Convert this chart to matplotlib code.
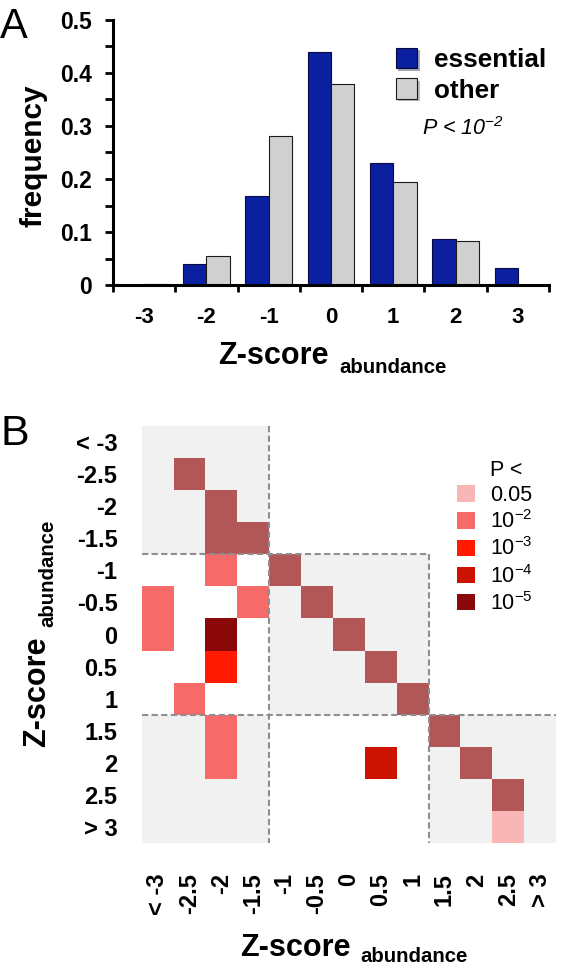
import numpy as np
import matplotlib
matplotlib.use('Agg')
import matplotlib.pyplot as plt
from matplotlib.colors import ListedColormap, BoundaryNorm
from matplotlib.patches import Patch, Rectangle
import matplotlib.patheffects as pe

plt.rcParams['font.family'] = ['Liberation Sans', 'DejaVu Sans']
plt.rcParams['mathtext.default'] = 'regular'

#----panel A: frequency of abundance z-scores
z_bins = [-3, -2, -1, 0, 1, 2, 3]
z_bin_labels = ['-3', '-2', '-1', '0', '1', '2', '3']
freq_essential = [0.0, 0.039, 0.167, 0.44, 0.231, 0.087, 0.032]
freq_other = [0.002, 0.055, 0.282, 0.38, 0.194, 0.083, 0.0]
freq_ticks = [0, 0.1, 0.2, 0.3, 0.4, 0.5]
freq_tick_labels = ['0', '0.1', '0.2', '0.3', '0.4', '0.5']

#----panel B: significance of z-score pairs
z_labels = ['< -3', '-2.5', '-2', '-1.5', '-1', '-0.5', '0',
            '0.5', '1', '1.5', '2', '2.5', '> 3']
# 0 = not significant, 1..5 = P < 0.05 .. 1e-5, 6 = diagonal
sig = [
    [0, 0, 0, 0, 0, 0, 0, 0, 0, 0, 0, 0, 0],
    [0, 6, 0, 0, 0, 0, 0, 0, 0, 0, 0, 0, 0],
    [0, 0, 6, 0, 0, 0, 0, 0, 0, 0, 0, 0, 0],
    [0, 0, 6, 6, 0, 0, 0, 0, 0, 0, 0, 0, 0],
    [0, 0, 2, 0, 6, 0, 0, 0, 0, 0, 0, 0, 0],
    [2, 0, 0, 2, 0, 6, 0, 0, 0, 0, 0, 0, 0],
    [2, 0, 5, 0, 0, 0, 6, 0, 0, 0, 0, 0, 0],
    [0, 0, 3, 0, 0, 0, 0, 6, 0, 0, 0, 0, 0],
    [0, 2, 0, 0, 0, 0, 0, 0, 6, 0, 0, 0, 0],
    [0, 0, 2, 0, 0, 0, 0, 0, 0, 6, 0, 0, 0],
    [0, 0, 2, 0, 0, 0, 0, 4, 0, 0, 6, 0, 0],
    [0, 0, 0, 0, 0, 0, 0, 0, 0, 0, 0, 6, 0],
    [0, 0, 0, 0, 0, 0, 0, 0, 0, 0, 0, 1, 0],
]
p_labels = ['0.05', '$10^{-2}$', '$10^{-3}$', '$10^{-4}$', '$10^{-5}$']
p_colors = ['#f8b6b6', '#f66a6a', '#ff1a00', '#cc1200', '#8a0808']
diag_color = '#b25757'
group_edges = [0, 4, 9, 13]
shaded = [(0, 0), (1, 1), (2, 2), (2, 0)]   # (row group, col group)

W, H = 566, 967
fig = plt.figure(figsize=(W / 100, H / 100), dpi=100)

#----panel A
axA = fig.add_axes([113 / W, 1 - 285 / H, 436 / W, 265 / H])
x = np.array(z_bins)
w = 0.375
axA.bar(x - w / 2, freq_essential, w, color='#0b20a0', edgecolor='#0a0a40',
        lw=0.8, label='essential')
axA.bar(x + w / 2, freq_other, w, color='#d0d0d0', edgecolor='#1a1a1a',
        lw=0.8, label='other')
axA.set_xlim(-3.5, 3.5)
axA.set_ylim(0, 0.5)
axA.set_xticks(z_bins)
axA.set_xticklabels(z_bin_labels, fontsize=16, fontweight='bold')
axA.set_xticks(np.arange(-3.5, 3.6, 1), minor=True)
axA.set_yticks(freq_ticks)
axA.set_yticklabels(freq_tick_labels, fontsize=16.5, fontweight='bold')
axA.set_yticks(np.arange(0.05, 0.5, 0.1), minor=True)
axA.tick_params(axis='x', which='major', length=0, pad=16)
axA.tick_params(axis='x', which='minor', length=5, width=2, direction='out')
axA.tick_params(axis='y', which='both', length=6, width=2, pad=9)
for s in ['top', 'right']:
    axA.spines[s].set_visible(False)
for s in ['left', 'bottom']:
    axA.spines[s].set_linewidth(2.2)

leg = axA.legend(loc='upper left', bbox_to_anchor=(0.648, 0.895), frameon=False,
                 prop={'size': 18.8, 'weight': 'bold'}, handlelength=0.84,
                 handleheight=0.84, handletextpad=0.65, labelspacing=0.24,
                 borderpad=0, borderaxespad=0)
for h in leg.legend_handles:
    h.set_path_effects([pe.SimplePatchShadow(offset=(1.5, -1.5), alpha=0.35),
                        pe.Normal()])
axA.text(0.708, 0.59, 'P < $10^{-2}$', transform=axA.transAxes,
         fontsize=15.5, style='italic', ha='left', va='center')

fig.text(33 / W, 1 - 156 / H, 'frequency', rotation=90, fontsize=21.5,
         fontweight='bold', ha='center', va='center')
fig.text(218 / W, 1 - 364 / H, 'Z-score', fontsize=22, fontweight='bold',
         ha='left', va='baseline')
fig.text(339 / W, 1 - 373 / H, 'abundance', fontsize=14.7, fontweight='bold',
         ha='left', va='baseline')
fig.text(0 / W, 1 - 38 / H, 'A', fontsize=30, ha='left', va='baseline')

#----panel B
axB = fig.add_axes([141.7 / W, 1 - 842.7 / H, 414.3 / W, 416.4 / H])
n = len(z_labels)
for rg, cg in shaded:
    r0, r1 = group_edges[rg], group_edges[rg + 1]
    c0, c1 = group_edges[cg], group_edges[cg + 1]
    axB.add_patch(Rectangle((c0, r0), c1 - c0, r1 - r0, facecolor='#f1f1f1',
                            edgecolor='none', zorder=0))

cmap = ListedColormap(p_colors + [diag_color])
norm = BoundaryNorm(np.arange(0.5, 7.5, 1), cmap.N)
data = np.ma.masked_equal(np.array(sig), 0)
axB.pcolormesh(np.arange(n + 1), np.arange(n + 1), data, cmap=cmap, norm=norm,
               zorder=1)

dash = dict(color='#8f8f8f', lw=1.5, linestyle=(0, (3, 1.6)), zorder=3)
axB.plot([4, 4], [0, 13], **dash)
axB.plot([0, 9], [4, 4], **dash)
axB.plot([9, 9], [4, 13], **dash)
axB.plot([0, 13], [9, 9], **dash)

axB.set_xlim(0, n)
axB.set_ylim(n, 0)
axB.set_xticks(np.arange(n) + 0.5)
axB.set_xticklabels(z_labels, rotation=90, fontsize=17, fontweight='bold')
axB.set_yticks(np.arange(n) + 0.5)
axB.set_yticklabels(z_labels, fontsize=17, fontweight='bold')
axB.tick_params(axis='x', length=0, pad=22)
axB.tick_params(axis='y', length=0, pad=17.5)
for s in axB.spines.values():
    s.set_visible(False)

handles = [Patch(facecolor='none', edgecolor='none')]
handles += [Patch(facecolor=c, edgecolor='none') for c in p_colors]
axB.legend(handles, ['P <'] + p_labels, loc='upper left',
           bbox_to_anchor=(0.76, 0.92), frameon=False, fontsize=15.5,
           handlelength=0.84, handleheight=0.8, handletextpad=0.7,
           labelspacing=0.2, borderpad=0, borderaxespad=0)

fig.text(45 / W, 1 - 747 / H, 'Z-score', rotation=90, rotation_mode='anchor',
         fontsize=22, fontweight='bold', ha='left', va='baseline')
fig.text(53 / W, 1 - 627 / H, 'abundance', rotation=90, rotation_mode='anchor',
         fontsize=14.7, fontweight='bold', ha='left', va='baseline')
fig.text(240 / W, 1 - 956 / H, 'Z-score', fontsize=22, fontweight='bold',
         ha='left', va='baseline')
fig.text(360 / W, 1 - 962 / H, 'abundance', fontsize=14.7, fontweight='bold',
         ha='left', va='baseline')
fig.text(0 / W, 1 - 445 / H, 'B', fontsize=31, ha='left', va='baseline')

fig.savefig('out.png', dpi=100)
